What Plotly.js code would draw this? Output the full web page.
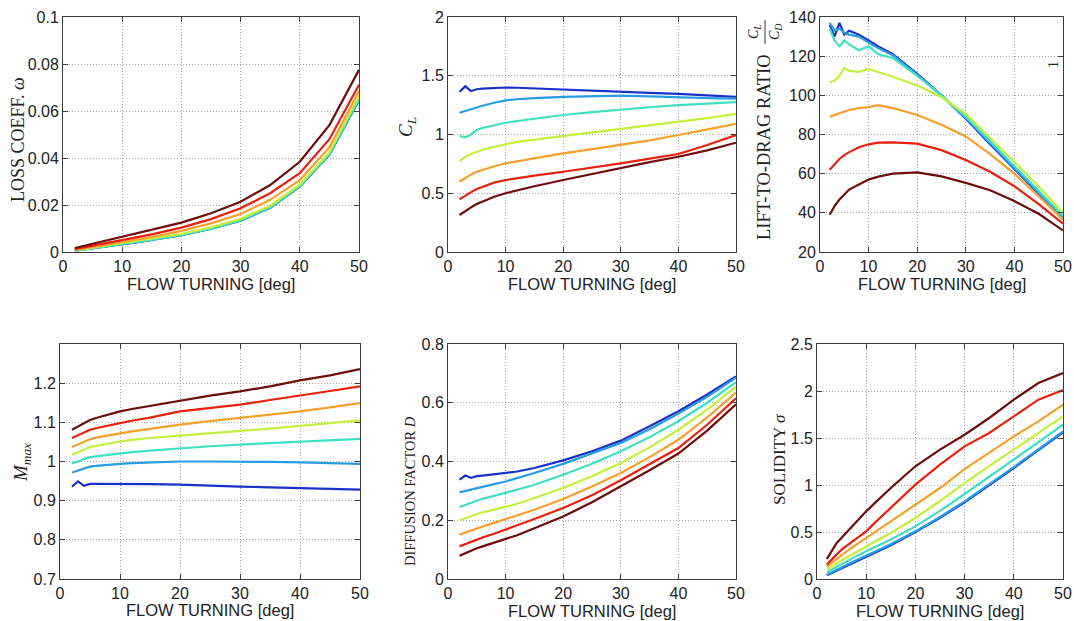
<!DOCTYPE html>
<html>
<head>
<meta charset="utf-8">
<script src="https://cdn.plot.ly/plotly-3.0.1.min.js"></script>
<style>html,body{margin:0;padding:0;background:#fff;}#chart{width:1074px;height:621px;}</style>
</head>
<body>
<div id="chart"></div>
<script>
// ---- data ----
const flowTurning = [2,3,4,5,6,8,10,12,15,20,25,30,35,40,45,50];
// series order: dark blue, light blue, cyan, yellow-green, orange, red, dark red
const seriesColors = ['#1832c8','#2a9de2','#3fe0c2','#c4f03c','#f5a02a','#e8200e','#6e0c0c'];

const lossCoeff = [
  [0.0006,0.0009,0.0012,0.0015,0.0018,0.0026,0.0033,0.0040,0.0052,0.0072,0.0099,0.0133,0.0188,0.0278,0.0415,0.0646],
  [0.0006,0.0009,0.0012,0.0016,0.0019,0.0026,0.0033,0.0040,0.0052,0.0072,0.0099,0.0134,0.0189,0.0279,0.0416,0.0648],
  [0.0006,0.0009,0.0013,0.0016,0.0019,0.0027,0.0034,0.0041,0.0053,0.0073,0.0100,0.0135,0.0190,0.0280,0.0418,0.0650],
  [0.0007,0.0011,0.0014,0.0018,0.0021,0.0029,0.0036,0.0044,0.0056,0.0077,0.0105,0.0141,0.0197,0.0287,0.0425,0.0665],
  [0.0009,0.0013,0.0017,0.0021,0.0025,0.0034,0.0042,0.0050,0.0064,0.0090,0.0122,0.0162,0.0222,0.0306,0.0445,0.0685],
  [0.0012,0.0017,0.0022,0.0027,0.0032,0.0041,0.0050,0.0060,0.0075,0.0104,0.0140,0.0186,0.0250,0.0335,0.0480,0.0712],
  [0.0017,0.0023,0.0029,0.0035,0.0041,0.0052,0.0063,0.0074,0.0092,0.0125,0.0165,0.0214,0.0285,0.0384,0.0540,0.0775]
];
const liftCoeff = [
  [1.364,1.410,1.370,1.385,1.390,1.395,1.400,1.398,1.393,1.385,1.375,1.364,1.355,1.345,1.333,1.320],
  [1.185,1.200,1.215,1.235,1.245,1.270,1.290,1.300,1.310,1.320,1.327,1.330,1.325,1.316,1.310,1.305],
  [0.987,0.975,1.000,1.040,1.055,1.080,1.100,1.115,1.135,1.166,1.190,1.214,1.232,1.250,1.263,1.275],
  [0.774,0.810,0.835,0.854,0.870,0.895,0.919,0.937,0.957,0.987,1.018,1.050,1.080,1.110,1.140,1.175],
  [0.598,0.630,0.660,0.683,0.700,0.730,0.755,0.772,0.800,0.840,0.875,0.910,0.950,0.996,1.040,1.090],
  [0.448,0.480,0.510,0.536,0.555,0.590,0.613,0.630,0.650,0.683,0.718,0.755,0.795,0.834,0.910,0.995],
  [0.315,0.350,0.380,0.408,0.430,0.470,0.500,0.525,0.560,0.613,0.665,0.718,0.765,0.811,0.865,0.930]
];
const liftToDrag = [
  [136,130,137,131,133,131,128,125,121,111,100,88.0,75.0,62.5,50.0,37.0],
  [137,133,134,132,131,130,127,124,120.5,110.5,100,88.5,75.5,63.0,50.5,37.5],
  [134,128,125,128,126,123,125,121,119,110,100,89.0,76.5,64.0,51.0,38.5],
  [106.5,107.5,110,114,112.5,112,113.5,112,109.5,105,99,90.5,78.5,66.0,53.5,40.0],
  [89,90,91,91.7,92.5,93.5,94,95,93.5,90,85,79,70,60,48.5,36.5],
  [62,65,67.5,69.5,71,73.5,75,75.8,76,75.3,72,67,61,53.6,44.5,34.5],
  [39,43.5,46.8,49.5,51.9,54.5,57,58.5,60,60.7,58.6,55.3,51.5,46,39.5,31]
];
const maxMach = [
  [0.936,0.949,0.938,0.943,0.943,0.943,0.943,0.943,0.942,0.941,0.938,0.936,0.934,0.932,0.930,0.928],
  [0.972,0.977,0.982,0.987,0.989,0.992,0.994,0.996,0.998,1.000,1.000,1.000,0.999,0.998,0.996,0.994],
  [0.996,1.000,1.006,1.011,1.013,1.017,1.021,1.024,1.028,1.034,1.039,1.043,1.047,1.051,1.055,1.058],
  [1.017,1.024,1.031,1.037,1.040,1.046,1.051,1.055,1.060,1.066,1.072,1.077,1.084,1.091,1.098,1.105],
  [1.037,1.044,1.051,1.057,1.061,1.067,1.072,1.077,1.084,1.094,1.103,1.111,1.120,1.128,1.138,1.149],
  [1.060,1.067,1.075,1.081,1.085,1.092,1.098,1.104,1.112,1.128,1.137,1.145,1.157,1.168,1.180,1.192],
  [1.081,1.089,1.098,1.106,1.111,1.120,1.128,1.134,1.142,1.156,1.168,1.179,1.192,1.207,1.220,1.236]
];
const diffusionFactor = [
  [0.338,0.352,0.344,0.350,0.352,0.356,0.361,0.366,0.378,0.404,0.435,0.471,0.520,0.571,0.628,0.690],
  [0.295,0.300,0.305,0.310,0.315,0.323,0.332,0.343,0.361,0.392,0.427,0.463,0.510,0.563,0.620,0.685],
  [0.245,0.252,0.260,0.268,0.273,0.283,0.293,0.304,0.321,0.355,0.392,0.435,0.483,0.537,0.600,0.670],
  [0.200,0.207,0.215,0.222,0.227,0.236,0.245,0.256,0.276,0.310,0.350,0.395,0.448,0.508,0.577,0.655],
  [0.151,0.158,0.166,0.173,0.179,0.191,0.204,0.216,0.236,0.272,0.315,0.361,0.415,0.474,0.550,0.635],
  [0.111,0.119,0.127,0.134,0.141,0.154,0.168,0.181,0.204,0.242,0.285,0.336,0.390,0.446,0.525,0.615],
  [0.079,0.088,0.097,0.105,0.111,0.123,0.136,0.149,0.173,0.213,0.261,0.315,0.370,0.427,0.505,0.595]
];
const solidity = [
  [0.040,0.064,0.092,0.118,0.143,0.192,0.240,0.287,0.360,0.500,0.652,0.815,0.995,1.180,1.370,1.560],
  [0.046,0.070,0.098,0.125,0.150,0.200,0.248,0.295,0.370,0.507,0.660,0.826,1.005,1.191,1.380,1.571],
  [0.071,0.100,0.130,0.160,0.190,0.243,0.295,0.345,0.420,0.560,0.725,0.904,1.085,1.270,1.455,1.642],
  [0.100,0.130,0.165,0.200,0.230,0.290,0.348,0.405,0.490,0.649,0.830,1.021,1.200,1.376,1.555,1.730],
  [0.128,0.170,0.215,0.259,0.295,0.365,0.436,0.505,0.613,0.790,0.968,1.170,1.340,1.518,1.677,1.855],
  [0.153,0.210,0.260,0.312,0.350,0.430,0.507,0.610,0.760,1.004,1.216,1.411,1.553,1.730,1.908,2.010],
  [0.213,0.300,0.383,0.440,0.496,0.610,0.720,0.820,0.968,1.199,1.376,1.535,1.713,1.908,2.085,2.190]
];

const xTickVals = [0,10,20,30,40,50];
const lossTicks = [0,0.02,0.04,0.06,0.08,0.1];
const lossTickText = ['0','0.02','0.04','0.06','0.08','0.1'];
const clTicks = [0,0.5,1,1.5,2];
const clTickText = ['0','0.5','1','1.5','2'];
const ldTicks = [20,40,60,80,100,120,140];
const machTicks = [0.7,0.8,0.9,1,1.1,1.2];
const machTickText = ['0.7','0.8','0.9','1','1.1','1.2'];
const diffTicks = [0,0.2,0.4,0.6,0.8];
const diffTickText = ['0','0.2','0.4','0.6','0.8'];
const solTicks = [0,0.5,1,1.5,2,2.5];
const solTickText = ['0','0.5','1','1.5','2','2.5'];
const xTitle = 'FLOW TURNING [deg]';

// ---- layout helpers ----
const W = 1074, H = 621;
const px = v => v / W;
const py = v => 1 - v / H;

const panels = [
  {data: lossCoeff,       x: [63,359],  y: [17,252],  range: [0,0.1], tv: lossTicks, tt: lossTickText, tY: 284},
  {data: liftCoeff,       x: [448,736], y: [17,252],  range: [0,2],   tv: clTicks,   tt: clTickText,   tY: 284},
  {data: liftToDrag,      x: [820,1063],y: [17,252],  range: [20,140],tv: ldTicks,   tt: ldTicks.map(String), tY: 284},
  {data: maxMach,         x: [60,360],  y: [344,579], range: [0.7,1.3],tv: machTicks,tt: machTickText, tY: 610},
  {data: diffusionFactor, x: [448,736], y: [344,579], range: [0,0.8], tv: diffTicks, tt: diffTickText, tY: 611},
  {data: solidity,        x: [817,1063],y: [344,579], range: [0,2.5], tv: solTicks,  tt: solTickText,  tY: 611}
];

const traces = [];
const layout = {
  width: W, height: H,
  margin: {l:0, r:0, t:0, b:0},
  paper_bgcolor: '#fff', plot_bgcolor: '#fff',
  showlegend: false,
  annotations: [], shapes: []
};
const tickFont = {family: 'Liberation Sans, Arial, sans-serif', size: 16, color: '#222'};
const axisCommon = {
  showline: true, mirror: 'ticks', linecolor: '#3c3c3c', linewidth: 1,
  ticks: 'inside', ticklen: 5, tickcolor: '#3c3c3c',
  showgrid: true, gridcolor: '#a8a8a8', griddash: '1px,2px', gridwidth: 1,
  zeroline: false, tickfont: tickFont, fixedrange: true
};

panels.forEach((p, i) => {
  const n = i + 1;
  const xa = 'xaxis' + (n === 1 ? '' : n);
  const ya = 'yaxis' + (n === 1 ? '' : n);
  layout[xa] = Object.assign({}, axisCommon, {
    domain: [px(p.x[0]), px(p.x[1])], range: [0, 50],
    tickmode: 'array', tickvals: xTickVals, ticktext: xTickVals.map(String),
    anchor: 'y' + (n === 1 ? '' : n)
  });
  layout[ya] = Object.assign({}, axisCommon, {
    domain: [py(p.y[1]), py(p.y[0])], range: p.range,
    tickmode: 'array', tickvals: p.tv, ticktext: p.tt,
    anchor: 'x' + (n === 1 ? '' : n)
  });
  p.data.forEach((vals, k) => {
    traces.push({
      type: 'scatter', mode: 'lines', x: flowTurning, y: vals,
      xaxis: 'x' + (n === 1 ? '' : n), yaxis: 'y' + (n === 1 ? '' : n),
      line: {color: seriesColors[k], width: 2.2}, hoverinfo: 'skip'
    });
  });
  layout.annotations.push({
    xref: 'paper', yref: 'paper', x: px((p.x[0] + p.x[1]) / 2), y: py(p.tY),
    text: xTitle, showarrow: false, xanchor: 'center', yanchor: 'middle',
    font: {family: 'Liberation Sans, Arial, sans-serif', size: 16.5, color: '#222'}
  });
});

const serif = 'Liberation Serif, Times New Roman, serif';
function yLabel(x, y, text, size) {
  layout.annotations.push({
    xref: 'paper', yref: 'paper', x: px(x), y: py(y), text: text, showarrow: false,
    textangle: -90, xanchor: 'center', yanchor: 'middle',
    font: {family: serif, size: size, color: '#222'}
  });
}
yLabel(18, 140, 'LOSS COEFF. <i>ω</i>', 18);
yLabel(407, 127, '<i>C<sub>L</sub></i>', 19);
yLabel(764, 147, 'LIFT-TO-DRAG RATIO', 18.5);
yLabel(754, 32, '<i>C<sub>L</sub></i>', 14);
yLabel(775, 32, '<i>C<sub>D</sub></i>', 14);
yLabel(22, 463, '<i>M<sub>max</sub></i>', 19);
yLabel(410, 491, 'DIFFUSION FACTOR <i>D</i>', 14.5);
yLabel(779, 460, 'SOLIDITY <i>σ</i>', 17);
yLabel(1053, 65, '1', 14);
layout.shapes.push({
  type: 'line', xref: 'paper', yref: 'paper',
  x0: px(765), x1: px(765), y0: py(20), y1: py(44),
  line: {color: '#333', width: 1}
});

Plotly.newPlot('chart', traces, layout, {staticPlot: true, displayModeBar: false});
</script>
</body>
</html>
